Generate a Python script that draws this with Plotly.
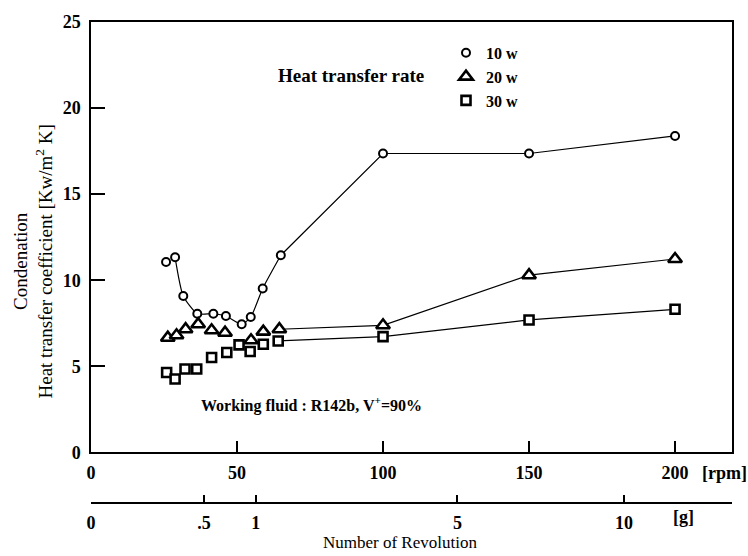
import plotly.graph_objects as go

# ---------------- data ----------------
rpm_10w = [25.7, 28.8, 31.6, 36.4, 41.9, 46.2, 51.6, 54.7, 58.8, 65.0, 100, 150, 200]
h_10w = [11.06, 11.33, 9.08, 8.05, 8.05, 7.92, 7.44, 7.86, 9.52, 11.45, 17.36, 17.36, 18.38]

rpm_20w = [26.3, 29.3, 32.4, 36.7, 41.3, 45.9, 54.8, 59.0, 64.5, 100, 150, 200]
h_20w = [6.66, 6.80, 7.15, 7.44, 7.09, 6.95, 6.51, 7.01, 7.15, 7.38, 10.29, 11.23]

rpm_30w = [25.9, 28.8, 32.2, 36.2, 41.3, 46.5, 50.7, 54.5, 59.0, 64.1, 100, 150, 200]
h_30w = [4.64, 4.26, 4.84, 4.84, 5.51, 5.80, 6.24, 5.86, 6.28, 6.47, 6.72, 7.69, 8.31]

rpm_ticks = [0, 50, 100, 150, 200]
y_ticks = [0, 5, 10, 15, 20, 25]
g_tick_rpm = [0, 38.7, 56.4, 125.5, 182.5, 219.5]
g_tick_text = ["0", ".5", "1", "5", "10", ""]

# ---------------- layout helpers ----------------
W, H = 748, 556
L, R, T, B = 91, 16, 19, 53
PW, PH = W - L - R, H - T - B
SERIF = "Liberation Serif"


def fx(p):
    return (p - L) / PW


def fy(p):
    return (H - B - p) / PH


fig = go.Figure()

# (name, x, y, symbol, size, outline, [(start, end, shape), ...])
series = [
    ("10 w", rpm_10w, h_10w, "circle", 8, 2.0, [(1, 10, "spline"), (9, None, "linear")]),
    ("20 w", rpm_20w, h_20w, "triangle-up", 12, 2.6, [(8, None, "linear")]),
    ("30 w", rpm_30w, h_30w, "square", 9, 2.6, [(9, None, "linear")]),
]

for name, xs, ys, sym, size, lw, segs in series:
    for s, e, shape in segs:
        fig.add_trace(go.Scatter(
            x=xs[s:e], y=ys[s:e], mode="lines",
            line=dict(color="black", width=1.2, shape=shape, smoothing=0.6),
            showlegend=False, hoverinfo="skip"))

for name, xs, ys, sym, size, lw, segs in series:
    fig.add_trace(go.Scatter(
        x=xs, y=ys, mode="markers", name=name,
        marker=dict(symbol=sym, size=size, color="white",
                    line=dict(color="black", width=lw))))

# dummy trace to create the second (g) axis
fig.add_trace(go.Scatter(x=[None], y=[None], xaxis="x2", showlegend=False,
                         hoverinfo="skip"))

tickfont = dict(family=SERIF, size=18, color="black", weight="bold")

fig.update_layout(
    width=W, height=H,
    margin=dict(l=L, r=R, t=T, b=B, pad=0),
    paper_bgcolor="white", plot_bgcolor="white",
    xaxis=dict(domain=[0, 1], range=[0, 219.5], tickvals=rpm_ticks,
               ticks="inside", ticklen=12, tickwidth=1.5, tickcolor="black",
               showline=True, linewidth=1.5, linecolor="black", mirror=True,
               showgrid=False, zeroline=False, tickfont=tickfont,
               ticklabelstandoff=3, anchor="y"),
    yaxis=dict(domain=[fy(452), 1], range=[0, 25], tickvals=y_ticks,
               ticks="inside", ticklen=14, tickwidth=1.5, tickcolor="black",
               showline=True, linewidth=1.5, linecolor="black", mirror=True,
               showgrid=False, zeroline=False, tickfont=tickfont,
               ticklabelstandoff=5),
    xaxis2=dict(overlaying="x", anchor="free", position=0, side="bottom",
                range=[0, 219.5], tickvals=g_tick_rpm, ticktext=g_tick_text,
                ticks="inside", ticklen=7, tickwidth=1.5, tickcolor="black",
                showline=True, linewidth=1.5, linecolor="black",
                showgrid=False, zeroline=False, tickfont=tickfont,
                ticklabelstandoff=4),
    showlegend=True,
    legend=dict(x=fx(446), y=fy(33), xanchor="left", yanchor="top",
                font=dict(family=SERIF, size=16, color="black", weight="bold"),
                bgcolor="rgba(0,0,0,0)", itemwidth=30, tracegroupgap=0),
)

ann = [
    dict(text="[rpm]", x=fx(724), y=fy(473), font=dict(family=SERIF, size=18, weight="bold")),
    dict(text="[g]", x=fx(683), y=fy(517), font=dict(family=SERIF, size=18, weight="bold")),
    dict(text="Number of Revolution", x=fx(400), y=fy(543), font=dict(family=SERIF, size=17)),
    dict(text="Heat transfer rate", x=fx(351), y=fy(73), font=dict(family=SERIF, size=19, weight="bold")),
    dict(text="Working fluid : R142b, V<sup>+</sup>=90%", x=fx(311), y=fy(404),
         font=dict(family=SERIF, size=16, weight="bold")),
    dict(text="Condenation<br>Heat transfer coefficient [Kw/m<sup>2</sup> K]", x=fx(33), y=fy(260),
         textangle=-90, font=dict(family=SERIF, size=19)),
]
for a in ann:
    a["font"]["color"] = "black"
    fig.add_annotation(xref="paper", yref="paper", showarrow=False,
                       xanchor="center", yanchor="middle", **a)

fig.write_html("out.html")
